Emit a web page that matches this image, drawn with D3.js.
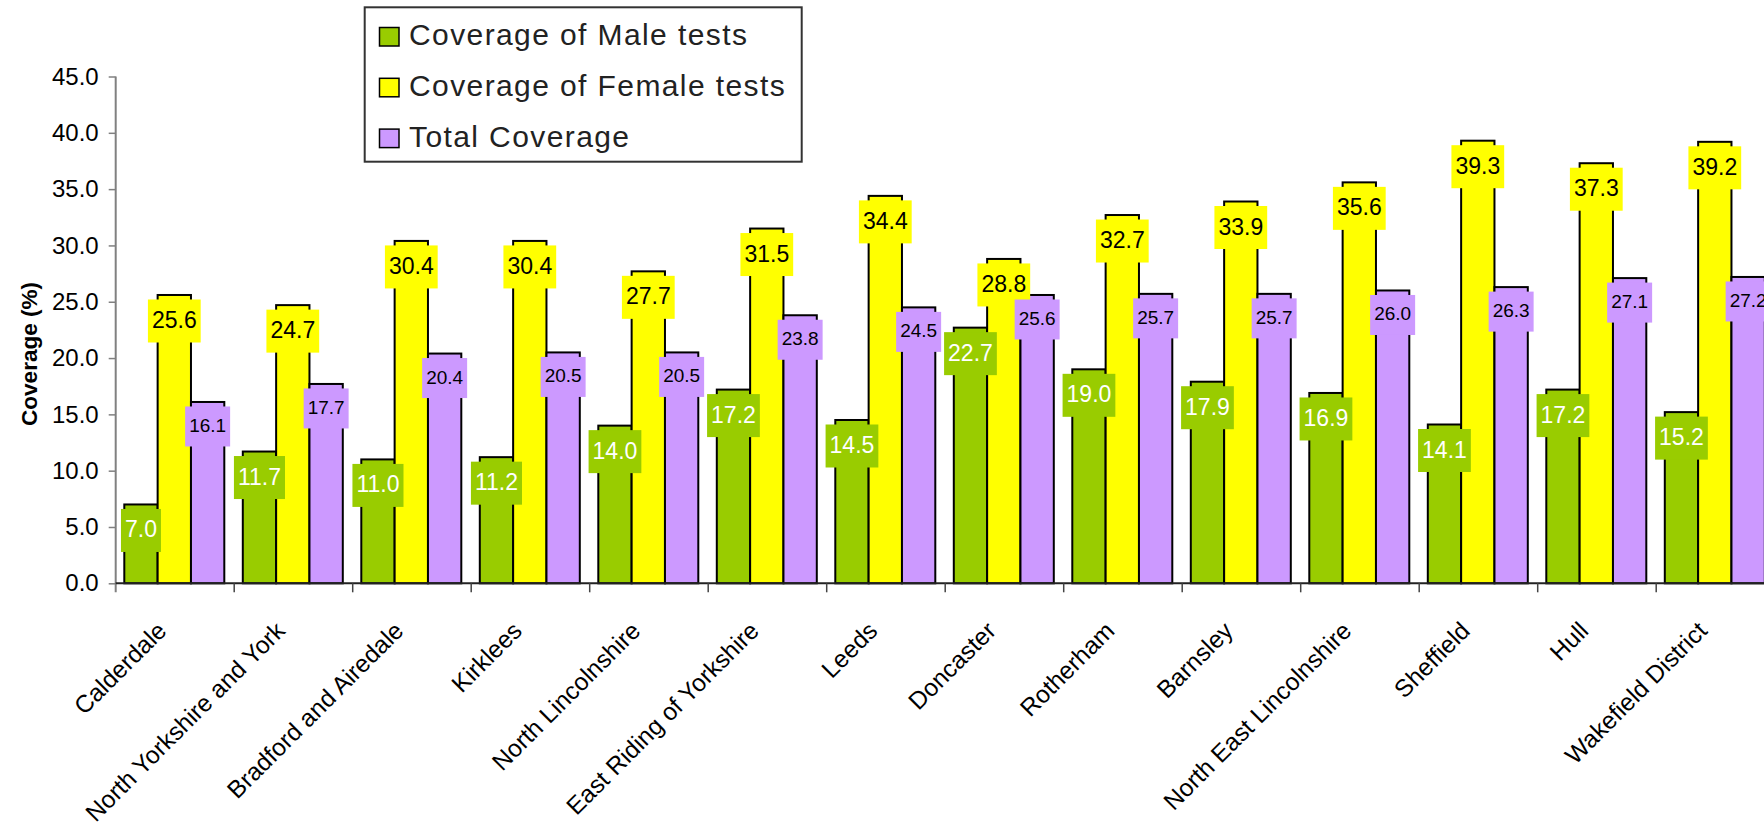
<!DOCTYPE html>
<html>
<head>
<meta charset="utf-8">
<script src="https://cdn.jsdelivr.net/npm/d3@7/dist/d3.min.js"></script>
<style>
  html, body { margin: 0; padding: 0; background: #fff; }
  svg { display: block; }
  text { font-family: "Liberation Sans", Arial, sans-serif; }
</style>
</head>
<body>
<svg id="chart" width="1764" height="829"></svg>
<script>
const categories = ["Calderdale", "North Yorkshire and York", "Bradford and Airedale", "Kirklees",
  "North Lincolnshire", "East Riding of Yorkshire", "Leeds", "Doncaster", "Rotherham", "Barnsley",
  "North East Lincolnshire", "Sheffield", "Hull", "Wakefield District"];
const maleValues   = [7.0, 11.7, 11.0, 11.2, 14.0, 17.2, 14.5, 22.7, 19.0, 17.9, 16.9, 14.1, 17.2, 15.2];
const femaleValues = [25.6, 24.7, 30.4, 30.4, 27.7, 31.5, 34.4, 28.8, 32.7, 33.9, 35.6, 39.3, 37.3, 39.2];
const totalValues  = [16.1, 17.7, 20.4, 20.5, 20.5, 23.8, 24.5, 25.6, 25.7, 25.7, 26.0, 26.3, 27.1, 27.2];
const seriesNames  = ["Coverage of Male tests", "Coverage of Female tests", "Total Coverage"];
const yTicks = [0, 5, 10, 15, 20, 25, 30, 35, 40, 45];
const yTitle = "Coverage (%)";

const seriesStyle = [
  { fill: "#99CC00", text: "#ffffff", size: 23, h: 43 },
  { fill: "#FFFF00", text: "#000000", size: 23, h: 43 },
  { fill: "#CC99FF", text: "#000000", size: 19, h: 40 }
];
const seriesValues = [maleValues, femaleValues, totalValues];

const svg = d3.select("#chart");
const x0 = 115.7, band = 118.5;
const x = d3.scaleBand().domain(categories).range([x0, x0 + band * categories.length]).padding(0);
const xs = d3.scaleBand().domain([0, 1, 2]).range([8.6, 108.6]).padding(0);
const y = d3.scaleLinear().domain([0, 45]).range([583.3, 76.5]);

// Bars
const bars = svg.append("g");
seriesValues.forEach((vals, s) => {
  bars.selectAll(null).data(vals).enter().append("rect")
    .attr("x", (d, i) => x(categories[i]) + xs(s))
    .attr("y", d => y(d))
    .attr("width", xs.bandwidth())
    .attr("height", d => y(0) - y(d))
    .attr("fill", seriesStyle[s].fill)
    .attr("stroke", "#000")
    .attr("stroke-width", 2);
});

// Y axis
const yAxis = svg.append("g").attr("transform", `translate(${x0},0)`)
  .call(d3.axisLeft(y).tickValues(yTicks).tickFormat(d3.format(".1f")).tickSize(7).tickPadding(10));
yAxis.select(".domain").attr("stroke", "#808080").attr("stroke-width", 2)
  .attr("d", `M0,${y(45)}V${y(0) + 9}`);
yAxis.selectAll(".tick line").attr("stroke", "#808080").attr("stroke-width", 1.5);
yAxis.selectAll(".tick text").attr("font-size", 24).attr("fill", "#000")
  .attr("font-family", "Liberation Sans, Arial, sans-serif");

// X axis baseline & ticks
const xAxis = svg.append("g");
xAxis.append("line").attr("x1", x0).attr("x2", 1764).attr("y1", y(0)).attr("y2", y(0))
  .attr("stroke", "#222").attr("stroke-width", 2);
xAxis.selectAll(null).data(categories.slice(1)).enter().append("line")
  .attr("x1", d => x(d)).attr("x2", d => x(d))
  .attr("y1", y(0)).attr("y2", y(0) + 9)
  .attr("stroke", "#444").attr("stroke-width", 1.5);
xAxis.selectAll(null).data(categories).enter().append("text")
  .attr("transform", d => `translate(${x(d) + x.bandwidth() / 2 - 7},${y(0) + 49}) rotate(-45)`)
  .attr("text-anchor", "end")
  .attr("font-size", 24.5)
  .attr("fill", "#000")
  .text(d => d);

// Data labels
const labels = svg.append("g");
seriesValues.forEach((vals, s) => {
  const st = seriesStyle[s];
  vals.forEach((v, i) => {
    const cx = x(categories[i]) + xs(s) + xs.bandwidth() / 2;
    const top = y(v) + 4.5;
    const g = labels.append("g");
    const t = g.append("text")
      .attr("x", cx).attr("y", top + st.h / 2 - 1)
      .attr("text-anchor", "middle")
      .attr("dominant-baseline", "central")
      .attr("font-size", st.size)
      .attr("fill", st.text)
      .text(d3.format(".1f")(v));
    const w = t.node().getComputedTextLength() + 8;
    g.insert("rect", "text")
      .attr("x", cx - w / 2).attr("y", top)
      .attr("width", w).attr("height", st.h)
      .attr("fill", st.fill);
  });
});

// Y title
svg.append("text")
  .attr("transform", `translate(37,354) rotate(-90)`)
  .attr("text-anchor", "middle")
  .attr("font-size", 22.5)
  .attr("font-weight", "bold")
  .attr("fill", "#000")
  .text(yTitle);

// Legend
const lg = svg.append("g");
lg.append("rect").attr("x", 364.7).attr("y", 7.3).attr("width", 437).attr("height", 154.4)
  .attr("fill", "#fff").attr("stroke", "#333").attr("stroke-width", 2);
seriesNames.forEach((name, s) => {
  const rowY = 45 + s * 50.8;
  lg.append("rect").attr("x", 379.5).attr("y", rowY - 17.5).attr("width", 19.5).attr("height", 18.5)
    .attr("fill", seriesStyle[s].fill).attr("stroke", "#000").attr("stroke-width", 1.5);
  lg.append("text").attr("x", 409).attr("y", rowY)
    .attr("font-size", 30).attr("letter-spacing", 1.4).attr("fill", "#222")
    .text(name);
});
</script>
</body>
</html>
